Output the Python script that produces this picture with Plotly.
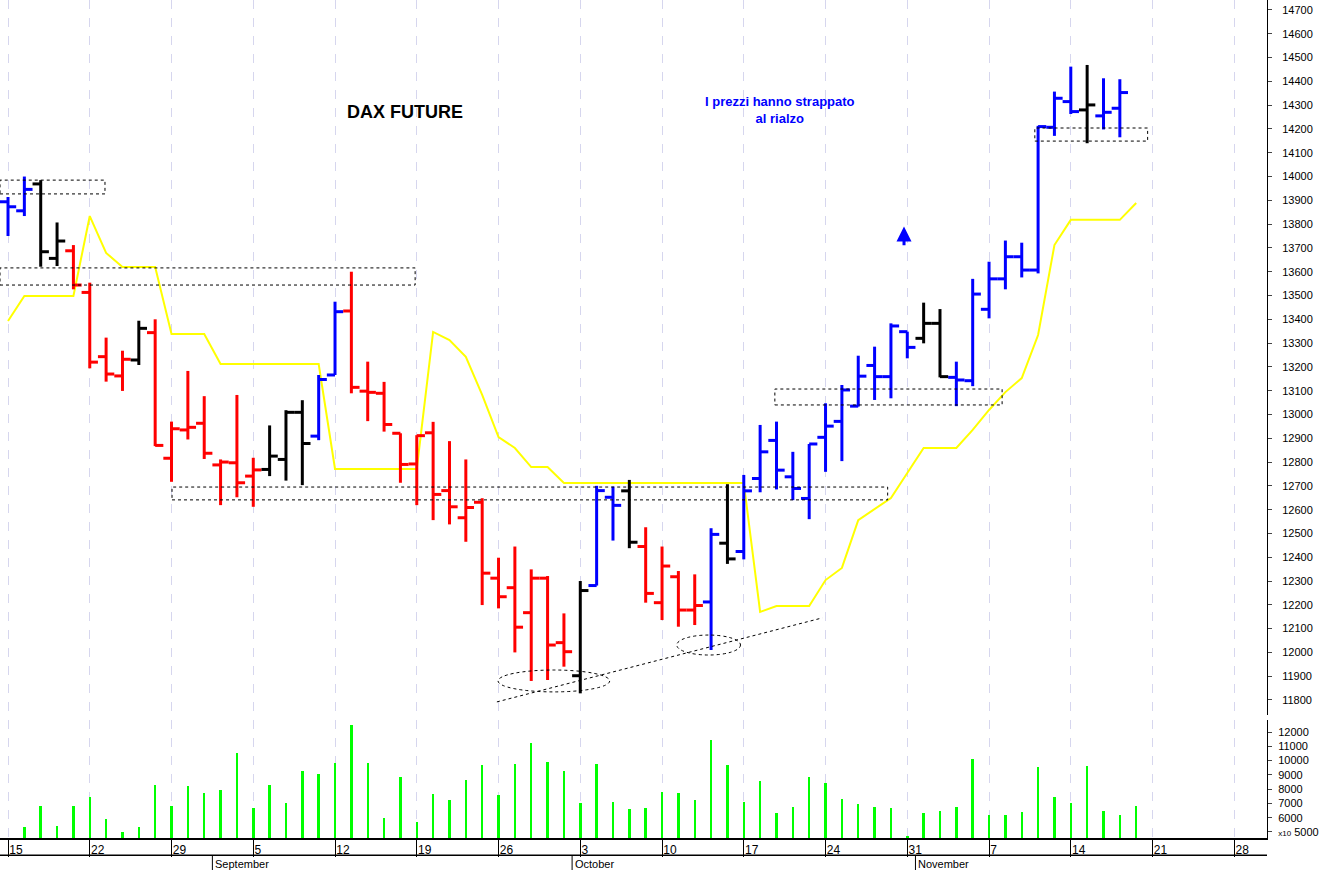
import plotly.graph_objects as go

# ---- data (trading-day index 0 = Mon 15 Aug 2022) ----
opens = [13894,13856,13969,13656,13688,13513,13243,13162,13229,13344,12816,12935,12963,12788,12797,12741,
         12769,12811,13009,12909,13166,13435,13098,13089,12921,12792,12923,12680,12566,12631,12312,12272,
         12167,12312,12041,11902,12281,12652,12679,12445,12209,12318,12178,12212,12459,12424,12731,12891,
         12738,12647,12904,12971,13035,13206,13159,13348,13320,13383,13156,13142,13442,13570,13663,13607,
         14207,14315,14280,14255,14287,14333]
highs = [13914,14000,13985,13807,13712,13554,13323,13268,13394,13400,12970,13183,13077,12811,13082,12818,
         12954,13018,13060,13166,13474,13600,13222,13137,12921,12913,12969,12888,12811,12648,12398,12445,
         12349,12321,12164,12300,12700,12697,12725,12526,12445,12342,12328,12522,12707,12746,12956,12970,
         12843,12876,13047,13124,13247,13285,13383,13348,13470,13443,13222,13570,13642,13731,13722,14213,
         14357,14462,14469,14413,14409,14479]
lows = [13750,13834,13621,13624,13526,13194,13138,13099,13208,12867,12717,12895,12813,12619,12652,12612,
        12741,12722,12703,12892,13166,13089,12972,12928,12713,12619,12556,12538,12465,12199,12185,12000,
        11880,11884,11940,11828,12281,12470,12438,12209,12136,12108,12115,12010,12372,12391,12673,12685,
        12640,12560,12759,12804,13033,13061,13068,13236,13299,13156,13035,13119,13404,13526,13576,13593,
        14171,14263,14140,14198,14165,14319]
closes = [13873,13946,13684,13729,13544,13220,13170,13232,13362,12870,12940,12946,12837,12800,12713,12767,
          12825,13009,12878,13147,13432,13114,13093,12958,12790,12911,12664,12612,12609,12333,12234,12106,
          12312,12031,12003,12260,12680,12618,12463,12248,12363,12178,12197,12496,12393,12679,12843,12766,
          12689,12876,12951,13103,13161,13159,13372,13282,13383,13159,13145,13506,13570,13663,13607,14210,
          14329,14273,14301,14270,14353,14466]
bar_colors = list("bbkkrrrrkrrrrrrrkkkbbrrrrrrrrrrrrrrkbbkrrrrbkbbbbbbbbbbbkkbbbbbbbbkbb")
volumes = [4553,5331,6849,5407,6801,7427,5938,5008,5331,8319,6849,8243,7759,7949,10530,6687,8319,7029,
           9249,9059,9828,12512,9828,5985,8831,5729,7683,7266,8670,9714,7617,9761,11232,9903,9296,7010,
           9761,7105,6621,6687,7807,7731,7219,11459,9714,7105,8594,6308,6735,8879,8395,7313,6962,6735,
           6687,4752,6336,6498,6754,10131,6175,6175,6384,9533,7427,7010,9647,6498,6175,6830]
stop_line = [13393,13498,13498,13498,13498,13834,13679,13620,13620,13620,13338,13338,13338,13212,13212,13212,
             13212,13212,13212,13212,12771,12771,12771,12771,12771,12771,13347,13313,13242,13082,12905,12859,
             12779,12779,12712,12712,12712,12712,12712,12712,12712,12712,12712,12712,12712,12712,12170,12195,
             12195,12195,12304,12355,12556,12603,12649,12754,12859,12859,12859,12935,13019,13094,13153,13334,
             13712,13818,13818,13818,13818,13889]
day_ticks = [0,5,10,15,20,25,30,35,40,45,50,55,60,65,70,75]
day_labels = ["15","22","29","5","12","19","26","3","10","17","24","31","7","14","21","28"]
month_pos = [13, 35, 56]
month_labels = ["September", "October", "November"]
price_ticks = list(range(11800, 14701, 100))
price_labels = [str(v) for v in price_ticks]
vol_ticks = list(range(5000, 12001, 1000))
vol_labels = ["<span style='font-size:8px'>x10</span> 5000"] + [str(v) for v in vol_ticks[1:]]
boxes = [(-0.49, 5.93, 13927, 13985), (-0.49, 24.9, 13544, 13616), (10.03, 53.8, 12641, 12695),
         (46.9, 60.8, 13040, 13107), (62.8, 69.7, 14149, 14204)]
ellipses = [(29.97, 36.8, 11834, 11926), (40.9, 44.8, 11989, 12073)]
trend = (29.9, 11792, 49.8, 12145)

cmap = {"b": "#0000ff", "r": "#ff0000", "k": "#000000"}
fig = go.Figure()

fig.add_trace(go.Scatter(x=list(range(len(stop_line))), y=stop_line, mode="lines",
                         line=dict(color="#ffff00", width=2), hoverinfo="skip"))

for code, col in cmap.items():
    xs, ys = [], []
    for i, c in enumerate(bar_colors):
        if c != code:
            continue
        xs += [i, i, None, i - 0.5, i, None, i, i + 0.5, None]
        ys += [lows[i], highs[i], None, opens[i], opens[i], None, closes[i], closes[i], None]
    fig.add_trace(go.Scatter(x=xs, y=ys, mode="lines", line=dict(color=col, width=3),
                             hoverinfo="skip"))

fig.add_trace(go.Bar(x=list(range(len(volumes))), y=volumes, width=0.15,
                     marker=dict(color="#00ff00", line=dict(width=0)), yaxis="y2"))

shapes = []
for x0, x1, y0, y1 in boxes:
    shapes.append(dict(type="rect", x0=x0, x1=x1, y0=y0, y1=y1, xref="x", yref="y",
                       line=dict(color="black", width=1, dash="dot")))
for x0, x1, y0, y1 in ellipses:
    shapes.append(dict(type="circle", x0=x0, x1=x1, y0=y0, y1=y1, xref="x", yref="y",
                       line=dict(color="black", width=1, dash="dot")))
shapes.append(dict(type="line", x0=trend[0], y0=trend[1], x1=trend[2], y1=trend[3], xref="x", yref="y",
                   line=dict(color="black", width=1, dash="dot")))
shapes.append(dict(type="line", xref="paper", yref="paper", x0=0, x1=1, y0=-0.0205, y1=-0.0205,
                   line=dict(color="black", width=1.5)))
for m in month_pos:
    shapes.append(dict(type="line", xref="x", yref="paper", x0=m - 0.5, x1=m - 0.5, y0=-0.0205, y1=-0.04,
                       line=dict(color="black", width=1)))

annotations = [
    dict(x=24.3, y=14271, xref="x", yref="y", text="<b>DAX FUTURE</b>", showarrow=False,
         font=dict(size=18, color="black", family="Liberation Sans, Arial")),
    dict(x=47.2, y=14280, xref="x", yref="y", text="<b>I prezzi hanno strappato<br>al rialzo</b>",
         showarrow=False, font=dict(size=13, color="#0000ff", family="Liberation Sans, Arial")),
    dict(x=54.8, y=13790, ax=54.8, ay=13705, xref="x", yref="y", axref="x", ayref="y", text="",
         showarrow=True, arrowhead=2, arrowsize=1, arrowwidth=3, arrowcolor="#0000ff"),
]
for m, lab in zip(month_pos, month_labels):
    annotations.append(dict(x=m - 0.45, y=-0.0215, xref="x", yref="paper", text=lab, showarrow=False,
                            xanchor="left", yanchor="top",
                            font=dict(size=11, color="black", family="Liberation Sans, Arial")))

fig.update_layout(
    width=1319, height=870, margin=dict(l=0, r=52, t=0, b=32),
    paper_bgcolor="white", plot_bgcolor="white", showlegend=False,
    font=dict(family="Liberation Sans, Arial", size=11, color="black"),
    bargap=0, shapes=shapes, annotations=annotations,
    xaxis=dict(range=[-0.49, 77.0], anchor="y2", tickvals=day_ticks, ticktext=day_labels,
               ticks="outside", ticklen=17, tickcolor="black", ticklabelposition="outside right",
               showline=True, linecolor="black", linewidth=1.5, zeroline=False,
               showgrid=True, gridcolor="#d6d6ee", griddash="dash", gridwidth=1,
               tickfont=dict(size=12)),
    yaxis=dict(domain=[0.1468, 1], range=[11737, 14742], side="right", tickvals=price_ticks,
               ticktext=price_labels, ticks="outside", ticklen=4, showline=True, linecolor="black",
               showgrid=False, zeroline=False, tickfont=dict(size=11), ticklabelstandoff=8),
    yaxis2=dict(domain=[0, 0.1408], range=[4580, 12840], side="right", tickvals=vol_ticks,
                ticktext=vol_labels, ticks="outside", ticklen=4, showline=True, linecolor="black",
                showgrid=False, zeroline=False, tickfont=dict(size=11), ticklabelstandoff=4),
)
fig.write_html("out.html", config={"displayModeBar": False},
               post_script="document.body.style.margin='0';window.dispatchEvent(new Event('resize'));")
